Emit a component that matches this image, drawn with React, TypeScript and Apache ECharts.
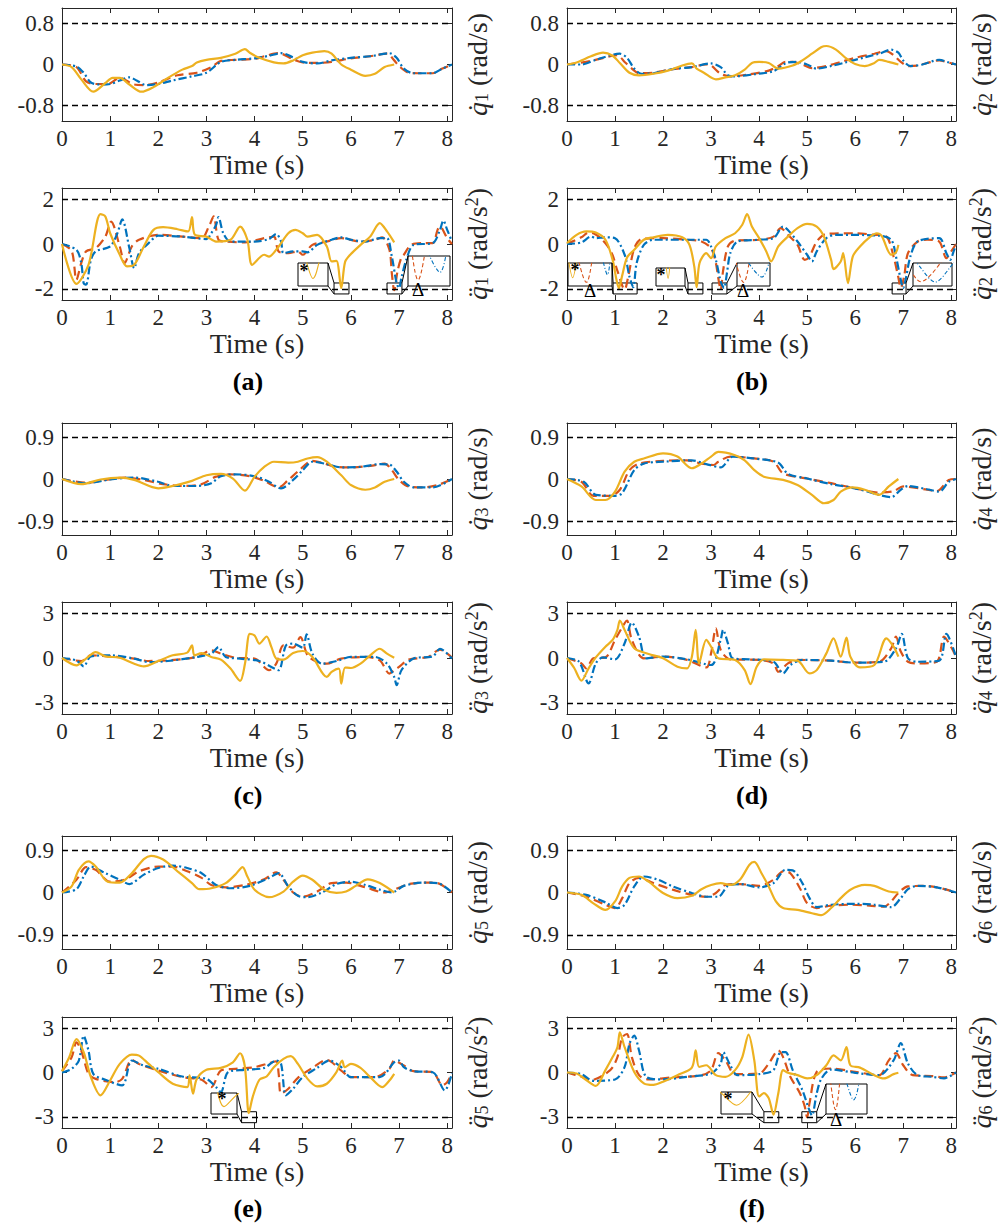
import React, { useEffect, useRef } from "react";
import * as echarts from "echarts";

// ---------------- data ----------------
const timeTicks = [0, 1, 2, 3, 4, 5, 6, 7, 8];
const timeMax = 8.1;
const velLimit = [0.8, 0.8, 0.9, 0.9, 0.9, 0.9];
const velRange = [1.1, 1.1, 1.2, 1.2, 1.2, 1.2];
const accLimit = [2, 2, 3, 3, 3, 3];
const accRange = [2.5, 2.5, 3.75, 3.75, 3.75, 3.75];
const panelLetters = ["(a)", "(b)", "(c)", "(d)", "(e)", "(f)"];

const vel1Orange = [[0,0],[0.2,-0.05],[0.4,-0.29],[0.65,-0.53],[0.9,-0.36],[1.05,-0.26],[1.2,-0.26],[1.4,-0.39],[1.65,-0.53],[1.9,-0.44],[2.2,-0.26],[2.5,-0.1],[2.7,-0.03],[2.8,0.04],[3.0,0.09],[3.3,0.13],[3.6,0.21],[3.8,0.3],[3.9,0.23],[4.1,0.13],[4.4,0.04],[4.6,0.02],[4.8,0.08],[5.0,0.18],[5.2,0.23],[5.45,0.26],[5.6,0.21],[5.8,0],[6.0,-0.1],[6.3,-0.22],[6.5,-0.18],[6.7,-0.05],[6.9,0]];
const vel1Red = [[0,0],[0.3,-0.05],[0.5,-0.33],[0.7,-0.38],[0.95,-0.38],[1.2,-0.26],[1.5,-0.39],[1.7,-0.4],[2.0,-0.35],[2.4,-0.21],[2.8,-0.16],[3.1,-0.05],[3.3,0.07],[3.6,0.09],[4.0,0.11],[4.2,0.16],[4.5,0.22],[4.8,0.1],[5.0,0.04],[5.3,0.03],[5.6,0.05],[6.0,0.12],[6.4,0.16],[6.75,0.21],[6.9,0.08],[7.0,-0.03],[7.2,-0.16],[7.4,-0.17],[7.7,-0.17],[7.9,-0.08],[8.1,0]];
const vel1Blue = [[0,0],[0.3,-0.04],[0.45,-0.16],[0.6,-0.35],[0.8,-0.39],[1.0,-0.38],[1.2,-0.31],[1.4,-0.25],[1.55,-0.31],[1.75,-0.4],[2.0,-0.38],[2.3,-0.31],[2.7,-0.23],[3.0,-0.16],[3.3,0.05],[3.6,0.09],[4.0,0.12],[4.3,0.17],[4.55,0.22],[4.8,0.14],[5.0,0.05],[5.3,0.02],[5.6,0.08],[6.0,0.13],[6.4,0.16],[6.8,0.22],[6.95,0.13],[7.1,-0.08],[7.3,-0.17],[7.7,-0.17],[7.9,-0.08],[8.1,0]];

const acc1Orange = [[0,0],[0.3,-1.78],[0.55,-0.93],[0.8,1.33],[0.9,1.23],[1.0,0.48],[1.2,-0.48],[1.35,-1.0],[1.5,-0.93],[1.7,-0.11],[1.9,0.63],[2.1,0.75],[2.4,0.66],[2.62,0.56],[2.7,1.2],[2.76,0.41],[3.0,0.33],[3.2,0.11],[3.5,0.19],[3.7,0.78],[3.85,0.19],[3.95,-0.93],[4.2,-0.48],[4.3,-0.56],[4.5,-0.11],[4.7,0.48],[4.85,0.63],[5.0,0.48],[5.1,0.33],[5.3,0.41],[5.5,-0.11],[5.6,-0.78],[5.7,-0.75],[5.8,-1.97],[5.88,-0.8],[6.0,-0.45],[6.2,-0.04],[6.4,0.33],[6.6,0.93],[6.75,0.56],[6.9,0.07]];
const acc1Red = [[0,0],[0.2,-0.3],[0.3,-1.6],[0.4,-0.85],[0.5,-0.33],[0.7,-0.19],[0.9,0.33],[1.02,1.0],[1.2,-0.11],[1.3,-0.85],[1.45,-0.11],[1.6,0.19],[2.0,0.41],[2.5,0.33],[2.9,0.26],[3.05,0.78],[3.15,1.23],[3.25,0.19],[3.4,0.11],[3.8,0.07],[4.2,0.26],[4.4,0.33],[4.5,-0.33],[4.7,-0.41],[4.9,-0.33],[5.0,-0.48],[5.2,-0.04],[5.5,0.11],[5.8,0.26],[6.2,0.11],[6.5,0.19],[6.65,0.3],[6.8,-0.26],[6.85,-1.3],[6.9,-2.06],[6.97,-1.2],[7.05,-0.6],[7.1,-0.48],[7.25,-0.04],[7.5,0.04],[7.7,0.04],[7.8,0.63],[7.85,0.78],[8.0,0.26],[8.1,0]];
const acc1Blue = [[0,0],[0.3,-0.26],[0.4,-0.85],[0.45,-1.75],[0.5,-1.82],[0.6,-0.71],[0.7,-0.33],[1.0,-0.11],[1.15,0.48],[1.25,1.1],[1.4,-0.19],[1.5,-1.08],[1.6,-0.41],[1.8,0.04],[2.0,0.37],[2.5,0.33],[3.0,0.22],[3.1,0.48],[3.2,0.85],[3.25,1.2],[3.35,0.48],[3.5,0.11],[4.0,0.11],[4.3,0.22],[4.45,0.45],[4.55,0.11],[4.6,-0.41],[4.8,-0.33],[5.0,-0.33],[5.1,-0.37],[5.3,-0.04],[5.6,0.19],[5.8,0.3],[6.0,0.19],[6.3,0.11],[6.6,0.26],[6.75,0.26],[6.85,-0.56],[6.95,-1.75],[7.0,-1.97],[7.05,-1.5],[7.15,-0.71],[7.3,-0.04],[7.7,0.04],[7.85,0.63],[7.92,1.05],[8.0,0.63],[8.1,0.11]];

const vel2Orange = [[0,0],[0.2,0.04],[0.5,0.16],[0.75,0.23],[0.95,0.17],[1.1,0.03],[1.3,-0.16],[1.5,-0.21],[1.8,-0.18],[2.1,-0.12],[2.4,-0.02],[2.6,0.02],[2.7,-0.08],[2.85,-0.16],[3.1,-0.29],[3.3,-0.25],[3.5,-0.21],[3.7,-0.1],[3.85,0.03],[4.0,0.05],[4.2,0.03],[4.4,-0.08],[4.7,-0.02],[4.9,0.08],[5.1,0.21],[5.3,0.34],[5.4,0.36],[5.6,0.29],[5.8,0.13],[6.0,0.01],[6.2,-0.03],[6.4,0.03],[6.5,0.09],[6.7,0.05],[6.9,0]];
const vel2Red = [[0,0],[0.5,0.07],[0.9,0.16],[1.05,0.18],[1.2,0.05],[1.35,-0.08],[1.5,-0.17],[1.8,-0.16],[2.2,-0.09],[2.6,-0.05],[2.9,0],[3.0,-0.02],[3.2,-0.18],[3.4,-0.23],[3.8,-0.19],[4.2,-0.12],[4.4,-0.03],[4.55,0.05],[4.7,0.05],[4.9,0],[5.1,-0.07],[5.4,-0.03],[5.7,0.05],[6.0,0.13],[6.4,0.21],[6.65,0.26],[6.8,0.18],[6.95,0.05],[7.1,-0.03],[7.3,-0.02],[7.5,0.03],[7.75,0.08],[7.9,0.05],[8.1,0]];
const vel2Blue = [[0,0],[0.3,0],[0.6,0.09],[1.1,0.21],[1.25,0.13],[1.4,-0.08],[1.55,-0.18],[1.8,-0.17],[2.2,-0.09],[2.6,-0.05],[3.0,0.02],[3.2,-0.05],[3.35,-0.21],[3.5,-0.23],[3.9,-0.19],[4.3,-0.13],[4.6,0.04],[4.8,0.05],[5.0,0],[5.2,-0.08],[5.5,-0.03],[5.8,0.04],[6.2,0.14],[6.5,0.21],[6.75,0.29],[6.9,0.23],[7.0,0.08],[7.15,-0.03],[7.4,0],[7.75,0.09],[7.95,0.04],[8.1,0]];

const acc2Orange = [[0,0.04],[0.2,0.41],[0.4,0.56],[0.6,0.51],[0.8,0.19],[0.95,-0.71],[1.03,-1.6],[1.08,-1.97],[1.15,-1.4],[1.25,-0.6],[1.4,-0.26],[1.6,0.19],[1.8,0.3],[2.1,0.41],[2.4,0.3],[2.55,-0.04],[2.65,-1.0],[2.7,-1.93],[2.76,-0.85],[2.9,-0.41],[3.0,-0.63],[3.1,-0.11],[3.3,0.26],[3.5,0.48],[3.65,0.86],[3.75,1.33],[3.85,0.78],[4.0,0.26],[4.15,-0.33],[4.25,-0.78],[4.4,-0.11],[4.6,0.33],[4.8,0.71],[5.0,0.9],[5.2,0.78],[5.35,0.33],[5.5,-0.71],[5.55,-1.12],[5.7,-0.78],[5.75,-0.41],[5.85,-1.75],[5.95,-0.56],[6.1,-0.11],[6.3,0.3],[6.45,0.48],[6.55,0.37],[6.75,-0.48],[6.85,-0.37],[6.9,-0.04]];
const acc2Red = [[0,0],[0.3,0.3],[0.45,0.51],[0.55,0.48],[0.7,0.26],[0.85,-0.11],[0.95,-0.5],[1.05,-1.2],[1.2,-2.03],[1.28,-1.4],[1.4,-0.2],[1.55,0.22],[2.0,0.26],[2.5,0.19],[2.8,0.11],[3.0,-0.19],[3.1,-0.85],[3.15,-1.52],[3.2,-2.04],[3.25,-1.2],[3.35,-0.11],[3.5,0.15],[4.0,0.19],[4.3,0.33],[4.45,0.71],[4.6,0.41],[4.8,-0.04],[4.95,-0.71],[5.05,-0.56],[5.2,0.11],[5.4,0.45],[6.0,0.48],[6.4,0.41],[6.65,0.33],[6.8,-0.56],[6.9,-1.5],[6.95,-1.96],[7.02,-1.45],[7.1,-0.41],[7.3,0.11],[7.5,0.19],[7.75,0.11],[7.9,-0.63],[8.0,-0.33],[8.1,0]];
const acc2Blue = [[0,0],[0.3,0.07],[0.5,0.33],[0.6,0.26],[0.8,0.3],[1.0,0.26],[1.2,-0.48],[1.3,-1.45],[1.38,-1.93],[1.45,-0.85],[1.6,-0.04],[1.8,0.19],[2.5,0.19],[2.9,0.19],[3.0,-0.11],[3.1,-0.71],[3.2,-1.67],[3.27,-1.97],[3.33,-1.3],[3.4,-0.41],[3.55,0.11],[4.0,0.19],[4.3,0.26],[4.5,0.78],[4.6,0.63],[4.8,0.11],[5.0,-0.48],[5.1,-0.78],[5.2,-0.33],[5.4,0.26],[5.6,0.41],[6.5,0.37],[6.75,0.19],[6.85,-0.56],[6.95,-1.6],[7.0,-1.97],[7.05,-1.6],[7.15,-0.56],[7.3,0.11],[7.75,0.26],[7.9,-0.41],[7.98,-0.71],[8.05,-0.33],[8.1,-0.04]];

const vel3Orange = [[0,0],[0.4,-0.11],[0.8,-0.01],[1.2,0.03],[1.5,-0.02],[2.0,-0.2],[2.3,-0.15],[2.7,-0.04],[3.0,0.08],[3.3,0.11],[3.55,0.01],[3.8,-0.25],[4.0,0.05],[4.2,0.26],[4.4,0.37],[4.7,0.35],[4.9,0.37],[5.1,0.44],[5.3,0.47],[5.5,0.37],[5.8,0.08],[6.0,-0.13],[6.3,-0.23],[6.5,-0.18],[6.7,-0.06],[6.9,0]];
const vel3Red = [[0,0],[0.5,-0.08],[0.9,-0.02],[1.3,0.03],[1.7,-0.02],[2.1,-0.11],[2.5,-0.15],[2.9,-0.11],[3.2,0.05],[3.5,0.1],[3.9,0.06],[4.2,-0.04],[4.5,-0.18],[4.7,-0.02],[4.9,0.16],[5.2,0.39],[5.4,0.35],[5.7,0.26],[6.0,0.25],[6.4,0.28],[6.7,0.33],[6.85,0.19],[7.0,-0.02],[7.2,-0.16],[7.5,-0.18],[7.8,-0.13],[8.1,0]];
const vel3Blue = [[0,0],[0.5,-0.09],[1.0,-0.01],[1.5,0.03],[2.0,-0.06],[2.3,-0.15],[2.8,-0.15],[3.1,-0.09],[3.3,0.06],[3.6,0.1],[4.0,0.06],[4.3,-0.06],[4.55,-0.2],[4.8,-0.02],[5.0,0.19],[5.2,0.37],[5.5,0.32],[5.8,0.25],[6.2,0.26],[6.6,0.32],[6.8,0.31],[6.95,0.16],[7.1,-0.06],[7.3,-0.18],[7.7,-0.18],[8.1,0]];

const acc3Orange = [[0,0],[0.3,-0.49],[0.5,-0.04],[0.7,0.4],[0.9,0.11],[1.2,0.02],[1.5,-0.38],[1.7,-0.56],[2.0,-0.2],[2.3,0.18],[2.6,0.36],[2.7,0.84],[2.75,0.18],[2.9,0.33],[3.1,0.07],[3.3,-0.11],[3.5,-0.71],[3.7,-1.53],[3.8,-0.38],[3.9,1.62],[4.0,1.51],[4.1,0.96],[4.25,1.44],[4.35,0.73],[4.45,-0.04],[4.6,-0.11],[4.8,0.33],[5.0,0.47],[5.2,0.07],[5.5,-1.27],[5.6,-0.93],[5.75,-0.71],[5.8,-1.71],[5.88,-0.64],[6.0,-0.67],[6.2,-0.38],[6.4,0.18],[6.6,0.62],[6.75,0.29],[6.9,0.02]];
const acc3Red = [[0,0],[0.4,-0.2],[0.6,0.18],[1.0,0.11],[1.5,-0.04],[1.8,-0.2],[2.2,-0.16],[2.8,0.07],[3.1,0.51],[3.3,0.29],[3.6,0.02],[4.0,-0.04],[4.3,-0.82],[4.45,-0.38],[4.6,0.84],[4.8,0.69],[4.95,1.4],[5.1,0.18],[5.3,-0.27],[5.5,-0.38],[5.8,-0.04],[6.3,0.07],[6.6,-0.16],[6.8,-1.04],[6.9,-0.82],[7.0,-0.6],[7.2,-0.11],[7.6,0.07],[7.85,0.56],[8.1,0.02]];
const acc3Blue = [[0,0],[0.3,-0.16],[0.45,-0.56],[0.6,0.11],[1.0,0.18],[1.5,-0.04],[1.8,-0.27],[2.2,-0.2],[2.8,0.07],[3.1,0.29],[3.25,0.73],[3.4,0.07],[3.7,-0.04],[4.1,-0.2],[4.35,-0.6],[4.5,-0.82],[4.65,0.84],[4.8,0.96],[5.0,0.69],[5.08,1.58],[5.2,0.29],[5.4,-0.38],[5.7,-0.2],[6.0,0.07],[6.5,0.07],[6.75,-0.38],[6.9,-1.27],[6.95,-1.82],[7.05,-0.82],[7.3,-0.04],[7.7,0.11],[7.85,0.62],[8.1,-0.04]];

const vel4Orange = [[0,0],[0.3,-0.16],[0.6,-0.45],[0.8,-0.45],[1.0,-0.27],[1.2,0.16],[1.4,0.37],[1.6,0.44],[2.0,0.55],[2.3,0.48],[2.6,0.23],[2.8,0.33],[3.0,0.48],[3.15,0.58],[3.5,0.51],[3.7,0.4],[3.9,0.19],[4.1,0.05],[4.5,-0.02],[4.8,-0.13],[5.1,-0.34],[5.35,-0.52],[5.55,-0.45],[5.7,-0.27],[5.95,-0.18],[6.2,-0.23],[6.5,-0.34],[6.7,-0.16],[6.9,0]];
const vel4Red = [[0,0],[0.3,-0.06],[0.55,-0.36],[0.9,-0.36],[1.1,-0.23],[1.3,0.19],[1.5,0.33],[2.0,0.39],[2.5,0.4],[2.8,0.33],[3.05,0.3],[3.15,0.37],[3.4,0.48],[3.9,0.44],[4.3,0.37],[4.5,0.12],[5.0,0.01],[5.5,-0.09],[6.0,-0.2],[6.5,-0.29],[6.8,-0.26],[7.0,-0.16],[7.5,-0.23],[7.7,-0.26],[7.95,-0.02],[8.1,0]];
const vel4Blue = [[0,0],[0.35,-0.06],[0.6,-0.34],[1.0,-0.36],[1.15,-0.3],[1.4,0.19],[1.6,0.33],[2.0,0.37],[2.6,0.4],[2.9,0.32],[3.2,0.25],[3.45,0.48],[3.9,0.44],[4.4,0.35],[4.6,0.11],[5.0,0.01],[5.5,-0.11],[6.0,-0.2],[6.5,-0.34],[6.75,-0.39],[6.95,-0.23],[7.1,-0.15],[7.5,-0.22],[7.75,-0.27],[7.95,-0.06],[8.1,0]];

const acc4Orange = [[0,0],[0.15,-0.67],[0.3,-1.52],[0.45,-0.69],[0.6,0.04],[0.8,0.76],[0.95,1.21],[1.05,1.88],[1.1,2.51],[1.2,1.88],[1.4,0.65],[1.7,0.27],[2.0,-0.02],[2.3,-0.58],[2.5,-0.69],[2.6,0.09],[2.68,1.88],[2.75,-0.36],[2.9,1.21],[3.0,0.76],[3.15,-0.02],[3.5,-0.13],[3.7,-0.81],[3.82,-1.75],[3.95,-0.58],[4.1,-0.09],[4.5,-0.13],[4.8,-0.18],[5.05,-1.03],[5.2,-0.81],[5.4,0.31],[5.55,1.32],[5.7,0.09],[5.82,1.37],[5.9,0.09],[6.1,-0.63],[6.4,-0.47],[6.65,1.32],[6.8,0.76],[6.9,0.09]];
const acc4Red = [[0,0],[0.3,-0.36],[0.4,-0.69],[0.55,-0.02],[0.8,0.04],[1.0,1.21],[1.2,2.33],[1.25,2.51],[1.35,1.21],[1.6,-0.02],[2.0,0.09],[2.5,-0.13],[2.9,-0.63],[3.0,0.31],[3.1,1.99],[3.2,0.54],[3.4,-0.09],[4.0,-0.13],[4.3,-0.36],[4.4,-0.92],[4.6,-0.36],[4.8,-0.13],[5.5,-0.18],[6.0,-0.31],[6.5,-0.25],[6.75,0.65],[6.85,1.43],[6.95,0.43],[7.1,-0.25],[7.3,-0.36],[7.7,-0.25],[7.85,1.43],[8.0,0.72],[8.1,0.09]];
const acc4Blue = [[0,0],[0.25,-0.25],[0.45,-1.7],[0.6,-0.36],[0.75,0.04],[1.0,-0.09],[1.2,0.99],[1.35,2.37],[1.5,1.43],[1.65,-0.02],[2.0,0.09],[2.5,-0.09],[3.0,-0.47],[3.2,1.21],[3.25,1.88],[3.35,0.99],[3.45,-0.02],[3.8,-0.09],[4.3,-0.25],[4.5,-1.03],[4.65,-0.47],[4.9,-0.13],[5.5,-0.18],[6.0,-0.31],[6.6,-0.25],[6.85,0.65],[6.97,1.61],[7.1,-0.02],[7.3,-0.25],[7.75,-0.18],[7.9,1.61],[8.1,0.09]];

const vel5Orange = [[0,0],[0.2,0.13],[0.35,0.48],[0.55,0.66],[0.7,0.55],[0.95,0.23],[1.2,0.21],[1.45,0.41],[1.7,0.71],[1.85,0.78],[2.1,0.7],[2.4,0.45],[2.7,0.2],[2.85,0.07],[3.1,0.09],[3.4,0.2],[3.6,0.38],[3.75,0.54],[3.85,0.34],[4.0,0.06],[4.3,-0.1],[4.6,0.02],[4.8,0.23],[5.0,0.36],[5.2,0.27],[5.45,0.06],[5.7,-0.01],[5.9,0.02],[6.1,0.14],[6.35,0.28],[6.6,0.2],[6.9,0]];
const vel5Red = [[0,0],[0.3,0.27],[0.5,0.54],[0.7,0.48],[1.0,0.23],[1.3,0.27],[1.6,0.45],[2.0,0.55],[2.3,0.55],[2.6,0.45],[2.9,0.31],[3.1,0.16],[3.4,0.11],[3.8,0.16],[4.2,0.28],[4.45,0.43],[4.6,0.27],[4.8,0],[5.0,-0.09],[5.3,0.02],[5.6,0.2],[5.9,0.21],[6.3,0.11],[6.7,0],[6.9,0.06],[7.2,0.18],[7.6,0.21],[7.8,0.2],[8.1,0]];
const vel5Blue = [[0,0],[0.3,0.07],[0.45,0.34],[0.6,0.55],[0.9,0.41],[1.2,0.27],[1.4,0.18],[1.7,0.38],[2.0,0.52],[2.3,0.57],[2.6,0.52],[2.9,0.41],[3.2,0.16],[3.5,0.09],[3.9,0.14],[4.3,0.31],[4.5,0.41],[4.7,0.13],[4.9,-0.07],[5.1,-0.1],[5.4,0],[5.7,0.18],[6.0,0.23],[6.3,0.16],[6.6,0.06],[6.85,0],[7.1,0.14],[7.5,0.21],[7.8,0.2],[8.1,0]];

const acc5Orange = [[0,0.09],[0.15,1.03],[0.3,2.26],[0.45,1.37],[0.6,-0.31],[0.8,-1.54],[1.0,-0.54],[1.2,0.58],[1.45,1.21],[1.6,1.14],[1.8,0.58],[2.0,0.02],[2.3,-0.76],[2.6,-0.99],[2.65,-0.2],[2.72,-1.43],[2.8,-0.43],[3.0,0.18],[3.3,0.31],[3.55,0.69],[3.7,1.3],[3.8,0.36],[3.88,-2.75],[3.96,-1.66],[4.1,-0.49],[4.25,-0.27],[4.4,0.36],[4.6,0.92],[4.75,1.1],[4.9,0.58],[5.1,-0.43],[5.3,-0.94],[5.5,-0.76],[5.7,0.02],[5.82,0.81],[5.87,0.36],[6.0,0.58],[6.2,0.31],[6.4,-0.31],[6.65,-0.99],[6.8,-0.54],[6.9,-0.09]];
const acc5Red = [[0,0.09],[0.2,1.03],[0.3,2.04],[0.4,1.48],[0.55,-0.09],[0.7,-0.43],[1.1,-0.65],[1.25,-0.43],[1.45,0.85],[1.6,0.58],[2.0,0.13],[2.5,-0.31],[2.9,-0.49],[3.1,-0.99],[3.3,0.13],[3.6,0.25],[4.0,0.36],[4.3,0.63],[4.45,0.76],[4.5,-0.09],[4.55,-1.43],[4.7,-1.1],[4.9,-0.36],[5.2,0.31],[5.5,0.85],[5.8,0.13],[6.0,-0.31],[6.5,-0.31],[6.8,0.25],[6.9,0.81],[7.1,0.47],[7.3,0.09],[7.7,0.02],[7.9,-0.87],[8.0,-0.65],[8.1,-0.04]];
const acc5Blue = [[0,0],[0.2,0.25],[0.35,0.81],[0.45,2.48],[0.55,1.48],[0.65,-0.09],[0.9,-0.49],[1.25,-0.87],[1.45,0.81],[1.7,0.47],[2.0,0.25],[2.5,-0.27],[3.0,-0.43],[3.2,-0.99],[3.3,-1.32],[3.45,0.02],[3.8,0.18],[4.2,0.31],[4.45,0.81],[4.55,0.58],[4.65,-1.54],[4.8,-1.1],[5.0,-0.31],[5.3,0.31],[5.55,0.81],[5.8,0.36],[6.0,-0.31],[6.6,-0.31],[6.9,0.69],[7.0,0.81],[7.1,0.36],[7.3,0.09],[7.7,0.02],[7.95,-1.21],[8.1,-0.04]];

const vel6Orange = [[0,0],[0.3,-0.05],[0.55,-0.23],[0.8,-0.37],[1.0,-0.19],[1.15,0.13],[1.3,0.31],[1.5,0.34],[1.7,0.23],[2.0,-0.01],[2.3,-0.12],[2.6,-0.07],[2.8,0.07],[3.0,0.16],[3.2,0.2],[3.4,0.16],[3.6,0.27],[3.8,0.59],[3.9,0.65],[4.05,0.41],[4.2,0.13],[4.35,-0.19],[4.5,-0.33],[4.8,-0.37],[5.1,-0.44],[5.3,-0.48],[5.5,-0.33],[5.7,-0.12],[5.9,0.06],[6.2,0.16],[6.4,0.14],[6.7,0.02],[6.9,0]];
const vel6Red = [[0,0],[0.4,-0.09],[0.8,-0.26],[1.0,-0.33],[1.15,-0.12],[1.3,0.2],[1.5,0.31],[1.8,0.2],[2.2,0.06],[2.6,-0.05],[2.9,-0.09],[3.1,-0.01],[3.3,0.16],[3.6,0.18],[4.0,0.14],[4.3,0.27],[4.5,0.45],[4.65,0.41],[4.85,0.09],[5.0,-0.23],[5.2,-0.33],[5.5,-0.28],[5.9,-0.26],[6.3,-0.28],[6.6,-0.3],[6.75,-0.19],[6.9,-0.01],[7.1,0.13],[7.4,0.14],[7.7,0.11],[8.1,0]];
const vel6Blue = [[0,0],[0.4,-0.05],[0.8,-0.21],[1.05,-0.33],[1.2,-0.26],[1.4,0.13],[1.6,0.34],[1.9,0.27],[2.2,0.13],[2.6,-0.01],[2.9,-0.09],[3.15,-0.09],[3.35,0.14],[3.6,0.18],[4.0,0.11],[4.3,0.2],[4.55,0.48],[4.7,0.47],[4.9,0.2],[5.05,-0.12],[5.2,-0.31],[5.5,-0.26],[6.0,-0.24],[6.4,-0.26],[6.75,-0.31],[6.95,-0.12],[7.1,0.07],[7.3,0.14],[7.7,0.11],[8.1,0]];

const acc6Orange = [[0,0],[0.2,-0.07],[0.4,-0.51],[0.6,-0.91],[0.8,0.16],[0.95,1.04],[1.05,1.71],[1.1,2.71],[1.2,1.71],[1.4,0.04],[1.6,-0.73],[1.8,-0.84],[2.0,-0.62],[2.3,-0.18],[2.6,0.33],[2.68,1.49],[2.75,0.38],[2.9,0.49],[3.1,-0.18],[3.3,-0.29],[3.5,0.16],[3.65,1.04],[3.78,2.56],[3.9,0.82],[4.0,-1.62],[4.1,-1.4],[4.2,-1.73],[4.3,-2.84],[4.4,-1.4],[4.5,0.16],[4.6,-0.02],[4.8,-0.18],[5.0,-0.4],[5.2,-0.18],[5.4,0.49],[5.55,1.16],[5.7,0.82],[5.82,1.71],[5.9,0.49],[6.1,0.33],[6.4,-0.18],[6.6,-0.4],[6.8,-0.11],[6.9,-0.02]];
const acc6Red = [[0,0],[0.3,-0.29],[0.5,-0.51],[0.9,0.16],[1.05,1.04],[1.15,2.38],[1.25,2.6],[1.35,1.04],[1.5,-0.18],[1.7,-0.47],[2.2,-0.33],[2.8,-0.18],[3.0,0.16],[3.15,1.31],[3.3,0.82],[3.5,-0.11],[4.0,-0.07],[4.2,0.6],[4.4,1.49],[4.5,1.04],[4.65,-0.29],[4.85,-1.4],[4.95,-2.29],[5.0,-3.03],[5.05,-2.07],[5.2,0.04],[5.5,0.27],[6.0,0.04],[6.5,-0.18],[6.7,0.82],[6.85,1.31],[7.0,0.49],[7.2,-0.18],[7.6,-0.24],[7.85,-0.33],[8.1,0]];
const acc6Blue = [[0,0],[0.3,-0.11],[0.55,-0.56],[1.0,-0.47],[1.2,0.38],[1.3,1.93],[1.4,2.49],[1.5,1.49],[1.65,-0.29],[2.0,-0.47],[2.5,-0.29],[3.0,-0.07],[3.2,0.6],[3.25,1.38],[3.4,0.49],[3.55,-0.18],[4.0,-0.11],[4.3,0.16],[4.45,1.38],[4.55,1.38],[4.7,0.16],[4.9,-1.18],[5.03,-2.4],[5.1,-2.9],[5.2,-1.4],[5.3,-0.4],[5.5,0.2],[6.0,-0.02],[6.5,-0.18],[6.8,0.82],[6.95,1.98],[7.1,0.6],[7.3,-0.18],[7.6,-0.29],[7.85,-0.4],[8.1,0]];

const panelSeries = [
  { joint: 1, kind: "vel", orange: vel1Orange, red: vel1Red, blue: vel1Blue },
  { joint: 1, kind: "acc", orange: acc1Orange, red: acc1Red, blue: acc1Blue },
  { joint: 2, kind: "vel", orange: vel2Orange, red: vel2Red, blue: vel2Blue },
  { joint: 2, kind: "acc", orange: acc2Orange, red: acc2Red, blue: acc2Blue },
  { joint: 3, kind: "vel", orange: vel3Orange, red: vel3Red, blue: vel3Blue },
  { joint: 3, kind: "acc", orange: acc3Orange, red: acc3Red, blue: acc3Blue },
  { joint: 4, kind: "vel", orange: vel4Orange, red: vel4Red, blue: vel4Blue },
  { joint: 4, kind: "acc", orange: acc4Orange, red: acc4Red, blue: acc4Blue },
  { joint: 5, kind: "vel", orange: vel5Orange, red: vel5Red, blue: vel5Blue },
  { joint: 5, kind: "acc", orange: acc5Orange, red: acc5Red, blue: acc5Blue },
  { joint: 6, kind: "vel", orange: vel6Orange, red: vel6Red, blue: vel6Blue },
  { joint: 6, kind: "acc", orange: acc6Orange, red: acc6Red, blue: acc6Blue },
];

// magnified regions (acceleration panels): src = [t1, t2, yLow, yHigh] in data units,
// xr / yr = zoomed axis ranges of the inset
const insetSpecs = [
  { joint: 1, src: [5.65, 5.96, -2.23, -1.74], xr: [5.71, 5.89], yr: [-2.2, -1.5], side: "left", marks: ["*"] },
  { joint: 1, src: [6.75, 7.06, -2.23, -1.74], xr: [6.854, 7.046], yr: [-2.131, -1.778], side: "right", marks: ["Δ"] },
  { joint: 2, src: [0.96, 1.46, -2.23, -1.74], xr: [1.04, 1.42], yr: [-2.078, -1.778], side: "left", marks: ["*", "Δ"] },
  { joint: 2, src: [2.52, 2.83, -2.23, -1.74], xr: [2.6, 2.84], yr: [-2.057, -1.757], side: "left", marks: ["*"] },
  { joint: 2, src: [3.02, 3.33, -2.23, -1.74], xr: [3.175, 3.302], yr: [-2.087, -1.787], side: "right", marks: ["Δ"] },
  { joint: 2, src: [6.77, 7.06, -2.23, -1.74], xr: [6.923, 7.058], yr: [-2.072, -1.472], side: "right", marks: [] },
  { joint: 5, src: [3.73, 4.04, -3.39, -2.65], xr: [3.8, 3.96], yr: [-3.42, -1.5], side: "left", marks: ["*"] },
  { joint: 6, src: [4.1, 4.41, -3.39, -2.65], xr: [4.22, 4.38], yr: [-3.48, -1.88], side: "left", marks: ["*"] },
  { joint: 6, src: [4.89, 5.2, -3.39, -2.65], xr: [4.948, 5.175], yr: [-3.088, -2.688], side: "right", marks: ["Δ"] },
];

// ---------------- layout / style ----------------
const COL_LEFT = [62, 567];
const COL_W = [390, 389];
const ROW_TOP = [8, 188, 423, 602, 836, 1017];
const ROW_H = [113, 112, 112, 112, 113, 111];
const INSET_BOX = [
  [298, 263, 328, 286], [408, 256, 450, 286],
  [568, 263, 612, 286], [656, 268, 685, 286], [737, 263, 770, 286], [913, 263, 952, 286],
  [211, 1093, 237, 1114],
  [721, 1092, 752, 1114], [826, 1084, 867, 1114],
];
const INSET_MARK_POS = [
  [[304, 271]], [[418, 289]],
  [[575, 270], [590, 290]], [[661, 275]], [[743, 290]], [],
  [[222, 1099]],
  [[728, 1099]], [[836, 1119]],
];
const LETTER_POS = [[248, 381], [752, 381], [248, 795], [752, 795], [248, 1208], [752, 1208]];

const ORANGE = "#EDB120";
const RED = "#D95319";
const BLUE = "#0072BD";
const INK = "#262626";
const FONT = "'Liberation Serif', 'Times New Roman', serif";

const LINE_STYLE: any = {
  red: { color: RED, main: [9, 5], inset: [4, 2.5], order: 0 },
  blue: { color: BLUE, main: [8, 3, 2, 3], inset: [4, 2, 1, 2], order: 1 },
  orange: { color: ORANGE, main: "solid", inset: "solid", order: 2 },
};

const nameRich = {
  q: { fontFamily: FONT, fontSize: 28, fontStyle: "italic", color: INK, lineHeight: 28 },
  s: { fontFamily: FONT, fontSize: 18, color: INK, verticalAlign: "bottom", lineHeight: 6 },
  u: { fontFamily: FONT, fontSize: 28, color: INK, lineHeight: 28 },
  p: { fontFamily: FONT, fontSize: 18, color: INK, verticalAlign: "top", lineHeight: 14 },
};

function axisName(kind: string, j: number) {
  return kind === "vel"
    ? `{q|q\u0307}{s|${j}}{u| (rad/s)}`
    : `{q|q\u0308}{s|${j}}{u| (rad/s}{p|2}{u|)}`;
}

const tick = (values: number[]) => ({
  show: true, inside: true, length: 5, customValues: values, lineStyle: { color: INK, width: 1 },
});
const axLine = { show: true, onZero: false, lineStyle: { color: INK, width: 1 } };

function lineSeries(data: any, which: string, xi: number, yi: number, inset: boolean) {
  const st = LINE_STYLE[which];
  return {
    type: "line", xAxisIndex: xi, yAxisIndex: yi, data,
    symbol: "none", showSymbol: false, smooth: 0.3, silent: true, clip: true,
    z: (inset ? 30 : 2) + st.order,
    lineStyle: { color: st.color, width: inset ? 1.1 : 2.2, type: inset ? st.inset : st.main },
    emphasis: { disabled: true },
  } as any;
}

function buildOption() {
  const grid: any[] = [];
  const xAxis: any[] = [];
  const yAxis: any[] = [];
  const series: any[] = [];
  const mainAxes: Record<string, { x: number; y: number }> = {};

  panelSeries.forEach((p) => {
    const ji = p.joint - 1;
    const isAcc = p.kind === "acc";
    const row = Math.floor(ji / 2) * 2 + (isAcc ? 1 : 0);
    const col = ji % 2;
    const lim = isAcc ? accLimit[ji] : velLimit[ji];
    const yR = isAcc ? accRange[ji] : velRange[ji];
    const gi = grid.length;
    grid.push({ left: COL_LEFT[col], top: ROW_TOP[row], width: COL_W[col], height: ROW_H[row], containLabel: false, outerBoundsMode: "none" });
    const xi = xAxis.length;
    xAxis.push({
      gridIndex: gi, type: "value", position: "bottom", min: 0, max: timeMax,
      axisLine: axLine, axisTick: tick(timeTicks),
      axisLabel: { show: true, customValues: timeTicks, margin: 6, color: INK, fontFamily: FONT, fontSize: 23, formatter: (v: number) => String(v) },
      splitLine: { show: false },
      name: "Time (s)", nameLocation: "middle", nameGap: 27,
      nameTextStyle: { color: INK, fontFamily: FONT, fontSize: 28 },
    });
    xAxis.push({
      gridIndex: gi, type: "value", position: "top", min: 0, max: timeMax,
      axisLine: axLine, axisTick: tick(timeTicks), axisLabel: { show: false }, splitLine: { show: false },
    });
    const yi = yAxis.length;
    const yTicks = [-lim, 0, lim];
    yAxis.push({
      gridIndex: gi, type: "value", position: "left", min: -yR, max: yR,
      axisLine: axLine, axisTick: tick(yTicks),
      axisLabel: { show: true, customValues: yTicks, margin: 8, color: INK, fontFamily: FONT, fontSize: 23, formatter: (v: number) => String(v) },
      splitLine: { show: false },
    });
    yAxis.push({
      gridIndex: gi, type: "value", position: "right", min: -yR, max: yR,
      axisLine: axLine, axisTick: tick(yTicks), axisLabel: { show: false }, splitLine: { show: false },
      name: axisName(p.kind, p.joint), nameLocation: "middle", nameGap: 11,
      nameTextStyle: { color: INK, fontFamily: FONT, fontSize: 28, rich: nameRich },
    });
    mainAxes[p.kind + p.joint] = { x: xi, y: yi };

    const red = lineSeries(p.red, "red", xi, yi, false);
    red.markLine = {
      silent: true, symbol: ["none", "none"], label: { show: false }, emphasis: { disabled: true },
      lineStyle: { color: "#000", type: [6, 4], width: 1.4 },
      data: [{ yAxis: lim }, { yAxis: -lim }],
    };
    const blue = lineSeries(p.blue, "blue", xi, yi, false);
    const orange = lineSeries(p.orange, "orange", xi, yi, false);
    const boxes = insetSpecs.filter((s) => isAcc && s.joint === p.joint);
    if (boxes.length) {
      orange.markArea = {
        silent: true, emphasis: { disabled: true },
        itemStyle: { color: "rgba(0,0,0,0)", borderColor: "#000", borderWidth: 1 },
        data: boxes.map((s) => [{ coord: [s.src[0], s.src[3]] }, { coord: [s.src[1], s.src[2]] }]),
      };
    }
    series.push(red, blue, orange);
  });

  // inset (magnified) grids
  insetSpecs.forEach((s, k) => {
    const p = panelSeries.find((q) => q.kind === "acc" && q.joint === s.joint)!;
    const lim = accLimit[s.joint - 1];
    const b = INSET_BOX[k];
    const gi = grid.length;
    grid.push({ left: b[0], top: b[1], width: b[2] - b[0], height: b[3] - b[1], containLabel: false, outerBoundsMode: "none" });
    const xi = xAxis.length;
    xAxis.push({ gridIndex: gi, type: "value", min: s.xr[0], max: s.xr[1], show: false });
    const yi = yAxis.length;
    yAxis.push({ gridIndex: gi, type: "value", min: s.yr[0], max: s.yr[1], show: false });
    const red = lineSeries(p.red, "red", xi, yi, true);
    red.markLine = {
      silent: true, symbol: ["none", "none"], label: { show: false }, emphasis: { disabled: true },
      lineStyle: { color: "#333", type: [4, 3], width: 1 },
      data: [{ yAxis: -lim }],
    };
    series.push(red, lineSeries(p.blue, "blue", xi, yi, true), lineSeries(p.orange, "orange", xi, yi, true));
  });

  return {
    option: { animation: false, backgroundColor: "#fff", grid, xAxis, yAxis, series },
    mainAxes,
  };
}

function buildGraphics(chart: any, mainAxes: Record<string, { x: number; y: number }>) {
  const els: any[] = [];
  insetSpecs.forEach((s, k) => {
    const b = INSET_BOX[k];
    const ax = mainAxes["acc" + s.joint];
    const finder = { xAxisIndex: ax.x, yAxisIndex: ax.y };
    const tl = chart.convertToPixel(finder, [s.src[0], s.src[3]]);
    const br = chart.convertToPixel(finder, [s.src[1], s.src[2]]);
    els.push({
      type: "rect", silent: true, z: 20,
      shape: { x: b[0], y: b[1], width: b[2] - b[0], height: b[3] - b[1] },
      style: { fill: "#fff", stroke: "#000", lineWidth: 1 },
    });
    const lines =
      s.side === "left"
        ? [[b[2], b[1], tl[0], tl[1]], [b[2], b[3], tl[0], br[1]]]
        : [[br[0], tl[1], b[0], b[1]], [br[0], br[1], b[0], b[3]]];
    lines.forEach((l) =>
      els.push({
        type: "line", silent: true, z: 20,
        shape: { x1: l[0], y1: l[1], x2: l[2], y2: l[3] },
        style: { stroke: "#000", lineWidth: 1 },
      })
    );
    s.marks.forEach((m, mi) => {
      const pos = INSET_MARK_POS[k][mi];
      const star = m === "*";
      els.push({
        type: "text", silent: true, z: 40, x: pos[0], y: pos[1],
        style: {
          text: m, fill: "#000",
          font: `${star ? "bold 18" : "19"}px ${FONT}`,
          align: "center", verticalAlign: "middle", textAlign: "center", textVerticalAlign: "middle",
        },
      });
    });
  });
  panelLetters.forEach((t, i) => {
    els.push({
      type: "text", silent: true, z: 40, x: LETTER_POS[i][0], y: LETTER_POS[i][1],
      style: {
        text: t, fill: "#000", font: `bold 26px ${FONT}`,
        align: "center", verticalAlign: "middle", textAlign: "center", textVerticalAlign: "middle",
      },
    });
  });
  return els;
}

export default function App() {
  const ref = useRef<HTMLDivElement>(null);
  useEffect(() => {
    const el = ref.current;
    if (!el) return;
    const chart = echarts.init(el, null, { renderer: "svg", width: 1003, height: 1225 });
    const { option, mainAxes } = buildOption();
    chart.setOption(option as any);
    chart.setOption({ graphic: { elements: buildGraphics(chart, mainAxes) } } as any);
    return () => chart.dispose();
  }, []);
  return (
    <div
      ref={ref}
      style={{ position: "absolute", left: 0, top: 0, width: 1003, height: 1225, background: "#fff" }}
    />
  );
}
